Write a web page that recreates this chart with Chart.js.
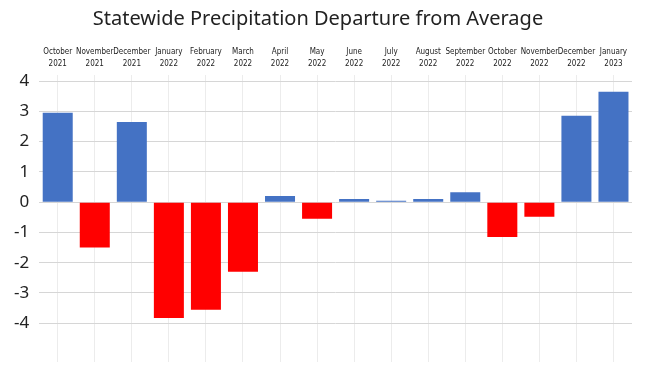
<!DOCTYPE html>
<html>
<head>
<meta charset="utf-8">
<script src="https://cdn.jsdelivr.net/npm/chart.js@4.4.0/dist/chart.umd.min.js"></script>
<style>
  html, body { margin: 0; padding: 0; background: #fff; }
  #wrap { width: 650px; height: 367px; }
</style>
</head>
<body>
<div id="wrap"><canvas id="myChart" width="650" height="367"></canvas></div>
<script>
const months = ["October", "November", "December", "January", "February", "March", "April", "May",
  "June", "July", "August", "September", "October", "November", "December", "January"];
const years = ["2021", "2021", "2021", "2022", "2022", "2022", "2022", "2022",
  "2022", "2022", "2022", "2022", "2022", "2022", "2022", "2023"];
const departure = [2.95, -1.5, 2.65, -3.83, -3.55, -2.3, 0.2, -0.55,
  0.1, 0.05, 0.1, 0.33, -1.15, -0.48, 2.85, 3.65];
const yTicks = [-4, -3, -2, -1, 0, 1, 2, 3, 4];

const labels = months.map((m, i) => [m, years[i]]);
const barColors = departure.map(v => (v >= 0 ? "#4472C4" : "#FF0000"));

const ctx = document.getElementById("myChart").getContext("2d");
new Chart(ctx, {
  type: "bar",
  data: {
    labels: labels,
    datasets: [
      {
        label: "Departure",
        data: departure,
        backgroundColor: barColors,
        borderWidth: 0,
        barPercentage: 0.81,
        categoryPercentage: 1,
      },
    ],
  },
  options: {
    responsive: false,
    animation: false,
    layout: {
      padding: { left: 4, right: 18, top: 0, bottom: 5 },
    },
    plugins: {
      legend: { display: false },
      tooltip: { enabled: false },
      title: {
        display: true,
        text: "Statewide Precipitation Departure from Average",
        color: "#222",
        font: { family: "Noto Sans", size: 20, weight: "normal" },
        padding: { top: 7, bottom: 10 },
      },
    },
    scales: {
      x: {
        position: "top",
        grid: {
          offset: false,
          drawTicks: false,
          color: "#ececec",
        },
        border: { display: false },
        ticks: {
          color: "#222",
          maxRotation: 0,
          autoSkip: false,
          padding: 5,
          font: { family: "'Liberation Sans Narrow', 'DejaVu Sans Condensed', sans-serif", size: 8, lineHeight: 1.5 },
        },
      },
      y: {
        min: -5.28,
        max: 4.2,
        afterBuildTicks: axis => {
          axis.ticks = yTicks.map(v => ({ value: v }));
        },
        afterFit: axis => {
          axis.paddingTop = 0;
          axis.paddingBottom = 0;
        },
        grid: {
          drawTicks: false,
          color: "#d6d6d6",
        },
        border: { display: false },
        ticks: {
          color: "#222",
          padding: 10,
          font: { family: "Noto Sans", size: 17 },
        },
      },
    },
  },
});
</script>
</body>
</html>
